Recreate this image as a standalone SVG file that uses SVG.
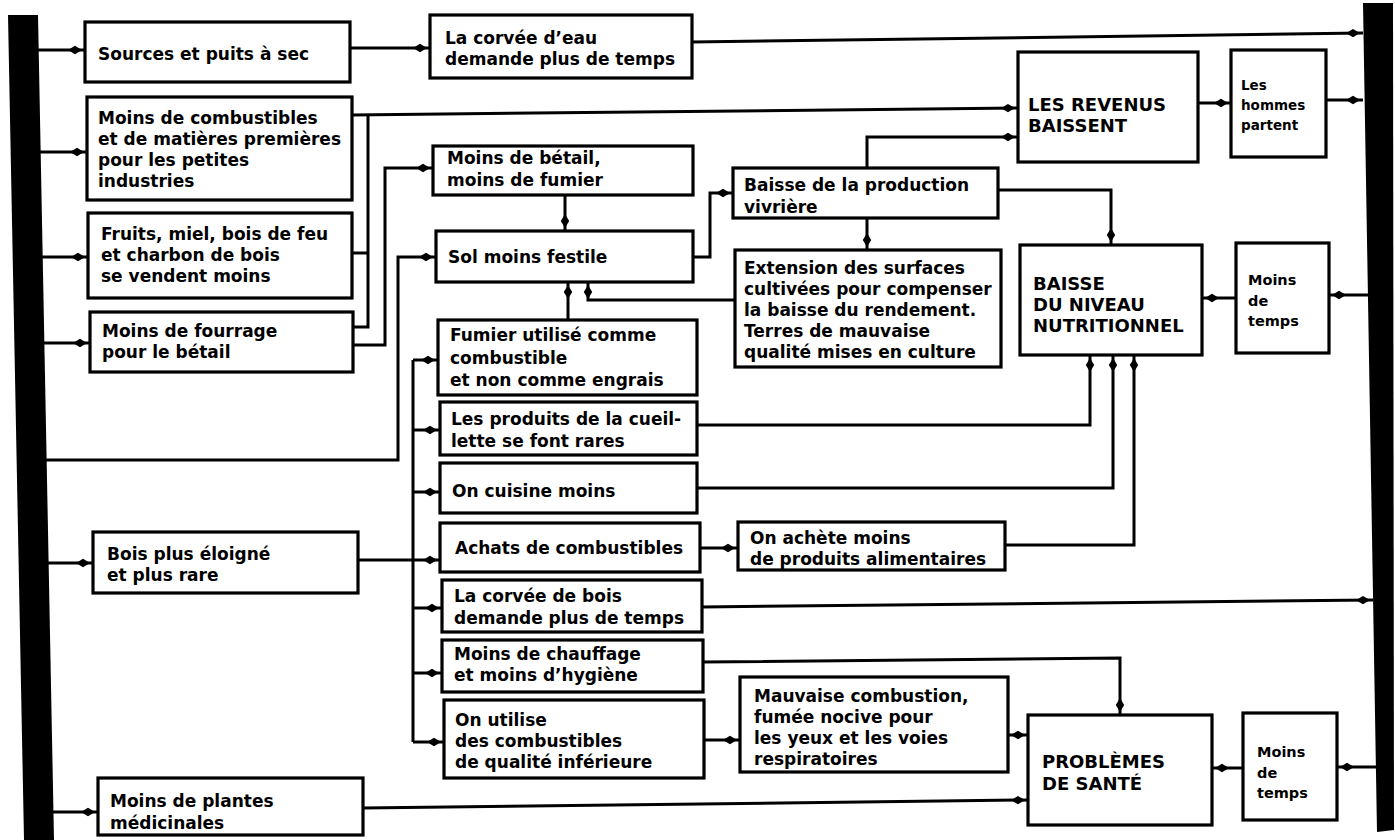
<svg xmlns="http://www.w3.org/2000/svg" width="1395" height="840" viewBox="0 0 1395 840">
<style>
.box{fill:#fff;stroke:#000;stroke-width:3.2}
.t{font-family:"DejaVu Sans","Liberation Sans",sans-serif;font-weight:bold;font-size:17px;fill:#000}
.cap{font-size:18px}
.sm{font-size:13.5px}
.md{font-size:14.5px}
.c{fill:none;stroke:#000;stroke-width:3}
.a{marker-end:url(#ah)}
.bar{fill:#000}
</style>
<defs>
<marker id="ah" viewBox="-22 -6 22 12" refX="0" refY="0" markerWidth="22" markerHeight="12" markerUnits="userSpaceOnUse" orient="auto">
<path d="M-3,0 L-10,-4.2 L-17,0 L-10,4.2 Z" fill="#000"/>
</marker>
</defs>
<rect width="1395" height="840" fill="#fff"/>

<g id="connectors">
<path class="c a" d="M35,50 H85"/>
<path class="c a" d="M35,152 H87"/>
<path class="c a" d="M38,257 H88"/>
<path class="c a" d="M40,343 H90"/>
<path class="c a" d="M42,460 H398 V257 H436"/>
<path class="c a" d="M45,563 H93"/>
<path class="c a" d="M50,812 H98"/>
<path class="c a" d="M350,48 H430"/>
<path class="c a" d="M692,42 L1363,33"/>
<path class="c a" d="M352,115 L1018,108"/>
<path class="c" d="M352,253 H368"/>
<path class="c" d="M353,327 H368 V115"/>
<path class="c a" d="M353,345 H385 V168 H433"/>
<path class="c a" d="M565,195 V231"/>
<path class="c a" d="M693,257 H710 V193 H733"/>
<path class="c a" d="M568,320 V282"/>
<path class="c a" d="M735,300 H588 V282"/>
<path class="c a" d="M867,168 V137 H1018"/>
<path class="c a" d="M867,218 V250"/>
<path class="c a" d="M998,190 H1111 V245"/>
<path class="c a" d="M1198,103 H1231"/>
<path class="c a" d="M1326,100 H1363"/>
<path class="c a" d="M1372,295 H1329"/>
<path class="c a" d="M1236,298 H1202"/>
<path class="c a" d="M697,425 H1090 V355"/>
<path class="c a" d="M697,488 H1113 V355"/>
<path class="c a" d="M1005,545 H1134 V355"/>
<path class="c a" d="M700,548 H738"/>
<path class="c a" d="M358,560 H440"/>
<path class="c" d="M413,742 V360"/>
<path class="c a" d="M413,360 H438"/>
<path class="c a" d="M413,430 H440"/>
<path class="c a" d="M413,492 H440"/>
<path class="c a" d="M413,608 H442"/>
<path class="c a" d="M413,673 H442"/>
<path class="c a" d="M413,742 H444"/>
<path class="c a" d="M702,607 L1373,600"/>
<path class="c a" d="M703,662 L1120,658 V715"/>
<path class="c a" d="M704,740 H740"/>
<path class="c a" d="M1008,735 H1028"/>
<path class="c a" d="M363,808 L1028,800"/>
<path class="c a" d="M1243,768 H1212"/>
<path class="c a" d="M1378,767 H1337"/>
</g>

<g id="bar-left"><polygon class="bar" points="8,15 38,15 54,840 24,840"/></g>
<g id="bar-right"><polygon class="bar" points="1363,3 1393,3 1394,830 1377,832"/></g>

<g id="n-sources"><rect class="box" x="85" y="22" width="265" height="60"/>
<text class="t" x="98" y="60">Sources et puits à sec</text></g>

<g id="n-combustibles"><rect class="box" x="87" y="97" width="265" height="103"/>
<text class="t" x="98" y="124">Moins de combustibles</text>
<text class="t" x="98" y="145">et de matières premières</text>
<text class="t" x="98" y="166">pour les petites</text>
<text class="t" x="98" y="187">industries</text></g>

<g id="n-fruits"><rect class="box" x="88" y="213" width="264" height="85"/>
<text class="t" x="101" y="240">Fruits, miel, bois de feu</text>
<text class="t" x="101" y="261">et charbon de bois</text>
<text class="t" x="101" y="282">se vendent moins</text></g>

<g id="n-fourrage"><rect class="box" x="90" y="312" width="263" height="60"/>
<text class="t" x="102" y="337">Moins de fourrage</text>
<text class="t" x="102" y="358">pour le bétail</text></g>

<g id="n-bois"><rect class="box" x="93" y="532" width="265" height="61"/>
<text class="t" x="107" y="560">Bois plus éloigné</text>
<text class="t" x="107" y="581">et plus rare</text></g>

<g id="n-plantes"><rect class="box" x="98" y="778" width="265" height="57"/>
<text class="t" x="110" y="807">Moins de plantes</text>
<text class="t" x="110" y="829">médicinales</text></g>

<g id="n-corvee-eau"><rect class="box" x="430" y="15" width="262" height="63"/>
<text class="t" x="445" y="44">La corvée d’eau</text>
<text class="t" x="445" y="65">demande plus de temps</text></g>

<g id="n-betail"><rect class="box" x="433" y="146" width="260" height="49"/>
<text class="t" x="447" y="164">Moins de bétail,</text>
<text class="t" x="447" y="186">moins de fumier</text></g>

<g id="n-sol"><rect class="box" x="436" y="231" width="257" height="51"/>
<text class="t" x="448" y="263">Sol moins festile</text></g>

<g id="n-fumier"><rect class="box" x="438" y="320" width="259" height="75"/>
<text class="t" x="450" y="341">Fumier utilisé comme</text>
<text class="t" x="450" y="364">combustible</text>
<text class="t" x="450" y="386">et non comme engrais</text></g>

<g id="n-cueillette"><rect class="box" x="440" y="402" width="257" height="53"/>
<text class="t" x="451" y="425">Les produits de la cueil-</text>
<text class="t" x="451" y="447">lette se font rares</text></g>

<g id="n-cuisine"><rect class="box" x="440" y="463" width="257" height="50"/>
<text class="t" x="452" y="497">On cuisine moins</text></g>

<g id="n-achats"><rect class="box" x="440" y="523" width="260" height="49"/>
<text class="t" x="455" y="554">Achats de combustibles</text></g>

<g id="n-corvee-bois"><rect class="box" x="442" y="580" width="260" height="52"/>
<text class="t" x="454" y="602">La corvée de bois</text>
<text class="t" x="454" y="624">demande plus de temps</text></g>

<g id="n-chauffage"><rect class="box" x="442" y="640" width="261" height="52"/>
<text class="t" x="454" y="660">Moins de chauffage</text>
<text class="t" x="454" y="681">et moins d’hygiène</text></g>

<g id="n-utilise"><rect class="box" x="444" y="700" width="260" height="78"/>
<text class="t" x="455" y="726">On utilise</text>
<text class="t" x="455" y="747">des combustibles</text>
<text class="t" x="455" y="768">de qualité inférieure</text></g>

<g id="n-baisse-prod"><rect class="box" x="733" y="168" width="265" height="50"/>
<text class="t" x="744" y="191">Baisse de la production</text>
<text class="t" x="744" y="213">vivrière</text></g>

<g id="n-extension"><rect class="box" x="735" y="250" width="266" height="117"/>
<text class="t" x="744" y="274">Extension des surfaces</text>
<text class="t" x="744" y="295">cultivées pour compenser</text>
<text class="t" x="744" y="316">la baisse du rendement.</text>
<text class="t" x="744" y="337">Terres de mauvaise</text>
<text class="t" x="744" y="358">qualité mises en culture</text></g>

<g id="n-achete"><rect class="box" x="738" y="522" width="267" height="48"/>
<text class="t" x="750" y="544">On achète moins</text>
<text class="t" x="750" y="565">de produits alimentaires</text></g>

<g id="n-mauvaise"><rect class="box" x="740" y="677" width="268" height="95"/>
<text class="t" x="754" y="702">Mauvaise combustion,</text>
<text class="t" x="754" y="723">fumée nocive pour</text>
<text class="t" x="754" y="744">les yeux et les voies</text>
<text class="t" x="754" y="765">respiratoires</text></g>

<g id="n-revenus"><rect class="box" x="1018" y="52" width="180" height="110"/>
<text class="t cap" x="1028" y="111">LES REVENUS</text>
<text class="t cap" x="1028" y="132">BAISSENT</text></g>

<g id="n-hommes"><rect class="box" x="1231" y="50" width="95" height="107"/>
<text class="t sm" x="1241" y="90">Les</text>
<text class="t sm" x="1241" y="110">hommes</text>
<text class="t sm" x="1241" y="130">partent</text></g>

<g id="n-nutrition"><rect class="box" x="1020" y="245" width="182" height="110"/>
<text class="t cap" x="1033" y="290">BAISSE</text>
<text class="t cap" x="1033" y="311">DU NIVEAU</text>
<text class="t cap" x="1033" y="332">NUTRITIONNEL</text></g>

<g id="n-temps1"><rect class="box" x="1236" y="243" width="93" height="110"/>
<text class="t md" x="1248" y="285">Moins</text>
<text class="t md" x="1248" y="306">de</text>
<text class="t md" x="1248" y="326">temps</text></g>

<g id="n-sante"><rect class="box" x="1028" y="715" width="184" height="110"/>
<text class="t cap" x="1042" y="768">PROBLÈMES</text>
<text class="t cap" x="1042" y="790">DE SANTÉ</text></g>

<g id="n-temps2"><rect class="box" x="1243" y="713" width="94" height="107"/>
<text class="t md" x="1257" y="757">Moins</text>
<text class="t md" x="1257" y="778">de</text>
<text class="t md" x="1257" y="798">temps</text></g>
</svg>
